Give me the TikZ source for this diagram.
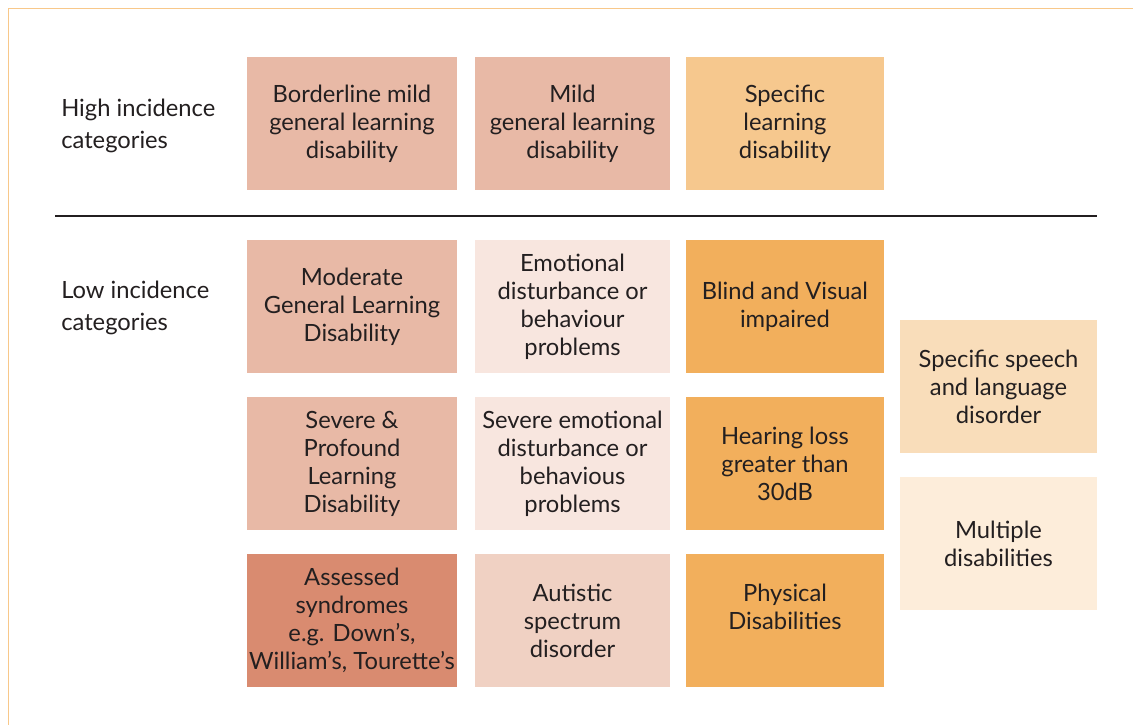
\documentclass[tikz,border=0pt]{standalone}
\usepackage{fontspec}
\setmainfont{Lato}
\definecolor{framec}{HTML}{F8C88A}
\definecolor{rose}{HTML}{E8B9A6}
\definecolor{darkrose}{HTML}{D98B70}
\definecolor{paleros}{HTML}{F8E6DF}
\definecolor{midros}{HTML}{F0D1C3}
\definecolor{sand}{HTML}{F6C88E}
\definecolor{amber}{HTML}{F2AF5C}
\definecolor{peach}{HTML}{F9DDBA}
\definecolor{cream}{HTML}{FDEDDA}
\definecolor{ink}{HTML}{231F20}
\begin{document}
\begin{tikzpicture}[x=0.75pt,y=-0.75pt,font=\fontsize{17.8}{21}\selectfont,
  cell/.style={inner sep=0pt,align=center,text=ink,minimum height=99.75pt},
  colA/.style={cell,minimum width=157.5pt},
  colB/.style={cell,minimum width=146.25pt},
  colC/.style={cell,minimum width=148.5pt},
  colD/.style={cell,minimum width=147.75pt},
  catlabel/.style={anchor=west,align=left,inner sep=0pt,text=ink,font=\fontsize{17.8}{24}\selectfont}]
\useasboundingbox (0,0) rectangle (1133,725);
\fill[white] (0,0) rectangle (1133,725);
\draw[framec,line width=1.4pt] (8.5,725)--(8.5,8.5)--(1133,8.5);
% high incidence
\node[catlabel] (high) at (61,126) {High incidence\\categories};
\node[colA,fill=rose] (bml) at (352,123.5) {Borderline mild\\general learning\\disability};
\node[colB,fill=rose] (mgl) at (572.5,123.5) {Mild\\general learning\\disability};
\node[colC,fill=sand] (sld) at (785,123.5) {Specific\\learning\\disability};
\coordinate (divl) at (55,216);
\coordinate (divr) at (1097,216);
\draw[ink,line width=0.8pt] (divl)--(divr);
% low incidence
\node[catlabel] (low) at (61,308) {Low incidence\\categories};
\node[colA,fill=rose] (mod) at (352,306.5) {Moderate\\General Learning\\Disability};
\node[colA,fill=rose] (sev) at (352,463.5) {Severe \&\\Profound\\Learning\\Disability};
\node[colA,fill=darkrose] (syn) at (352,620.5) {Assessed\\syndromes\\e.g. Down’s,\\William’s, Tourette’s};
\node[colB,fill=paleros] (emo) at (572.5,306.5) {Emotional\\disturbance or\\behaviour\\problems};
\node[colB,fill=paleros] (sem) at (572.5,463.5) {Severe emotional\\disturbance or\\behavious\\problems};
\node[colB,fill=midros] (asd) at (572.5,620.5) {Autistic\\spectrum\\disorder};
\node[colC,fill=amber] (bvi) at (785,306.5) {Blind and Visual\\impaired};
\node[colC,fill=amber] (hl) at (785,463.5) {Hearing loss\\greater than\\30dB};
\node[colC,fill=amber] (phy) at (785,620.5) {Physical\\Disabilities\\\mbox{}};
\node[colD,fill=peach] (ssl) at (998.5,386.5) {Specific speech\\and language\\disorder};
\node[colD,fill=cream] (mul) at (998.5,543.5) {Multiple\\disabilities};
\end{tikzpicture}
\end{document}
